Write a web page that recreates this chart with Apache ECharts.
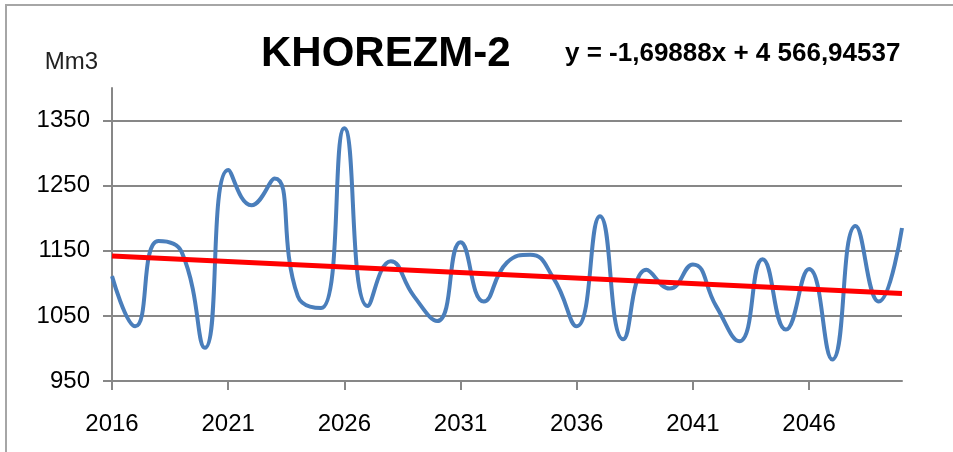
<!DOCTYPE html>
<html>
<head>
<meta charset="utf-8">
<script src="https://cdn.jsdelivr.net/npm/echarts@6/dist/echarts.min.js"></script>
<style>
  html, body { margin: 0; padding: 0; background: #fff; }
  #line_01 { width: 953px; height: 452px; }
</style>
</head>
<body>
<div id="line_01"></div>
<script>
// years on the x axis
var years = ['2016','2017','2018','2019','2020','2021','2022','2023','2024','2025',
             '2026','2027','2028','2029','2030','2031','2032','2033','2034','2035',
             '2036','2037','2038','2039','2040','2041','2042','2043','2044','2045',
             '2046','2047','2048','2049','2050'];
// volume, Mm3
var volumes = [1111, 1034, 1165, 1148, 1001, 1274, 1220, 1261, 1080, 1062,
               1338, 1065, 1134, 1080, 1042, 1163, 1072, 1132, 1144, 1108,
               1034, 1203, 1014, 1121, 1092, 1129, 1065, 1011, 1137, 1029,
               1122,  983, 1188, 1072, 1185];
// linear trend end points
var trendYears = ['2016', '2050'];
var trendValues = [1142.0, 1084.2];
var yTicks = [950, 1050, 1150, 1250, 1350];
var titleText = 'KHOREZM-2';
var equationText = 'y = -1,69888x + 4 566,94537';
var unitText = 'Mm3';

var line_01 = function () {
    var myChart = echarts.init(document.getElementById('line_01'));
    window.onresize = myChart.resize;

    var font = '"Liberation Sans", Arial, sans-serif';
    var option = {
        animation: false,
        backgroundColor: '#fff',
        graphic: [{
            type: 'rect',
            shape: { x: 6, y: 5, width: 1000, height: 500 },
            style: { fill: 'none', stroke: '#a6a6a6', lineWidth: 2 },
            silent: true
        }],
        title: [{
            text: titleText,
            left: 256, top: 28,
            textStyle: { fontFamily: font, fontSize: 42, fontWeight: 'bold', color: '#000' }
        }, {
            text: equationText,
            left: 560, top: 36,
            textStyle: { fontFamily: font, fontSize: 26, fontWeight: 'bold', color: '#000' }
        }],
        grid: { left: 112, right: 51, top: 88, bottom: 71 },
        xAxis: {
            type: 'category',
            data: years,
            boundaryGap: false,
            axisLine: { lineStyle: { color: '#878787', width: 2 } },
            axisTick: { show: true, interval: 4, length: 9, lineStyle: { color: '#878787', width: 2 } },
            axisLabel: {
                interval: 4,
                margin: 31,
                fontFamily: font, fontSize: 24, color: '#000'
            },
            splitLine: { show: false }
        },
        yAxis: {
            type: 'value',
            min: 950,
            max: 1400,
            name: unitText,
            nameLocation: 'end',
            nameGap: 14,
            nameTextStyle: { fontFamily: font, fontSize: 24, color: '#222', align: 'right', padding: [0, 14, 0, 0] },
            axisLine: { show: true, lineStyle: { color: '#878787', width: 2 } },
            axisTick: { show: true, length: 9, customValues: yTicks, lineStyle: { color: '#878787', width: 2 } },
            axisLabel: {
                customValues: yTicks,
                margin: 22,
                formatter: function (v) { return String(v); },
                fontFamily: font, fontSize: 24, color: '#000'
            },
            splitLine: { show: true, lineStyle: { color: '#878787', width: 2 } }
        },
        series: [{
            name: 'volume',
            type: 'line',
            data: volumes,
            smooth: 0.5,
            showSymbol: false,
            lineStyle: { color: '#4a7ebb', width: 4 },
            z: 2
        }, {
            name: 'trend',
            type: 'line',
            data: [[trendYears[0], trendValues[0]], [trendYears[1], trendValues[1]]],
            showSymbol: false,
            lineStyle: { color: '#ff0000', width: 5 },
            z: 3
        }]
    };
    myChart.setOption(option);
};

line_01();
</script>
</body>
</html>
